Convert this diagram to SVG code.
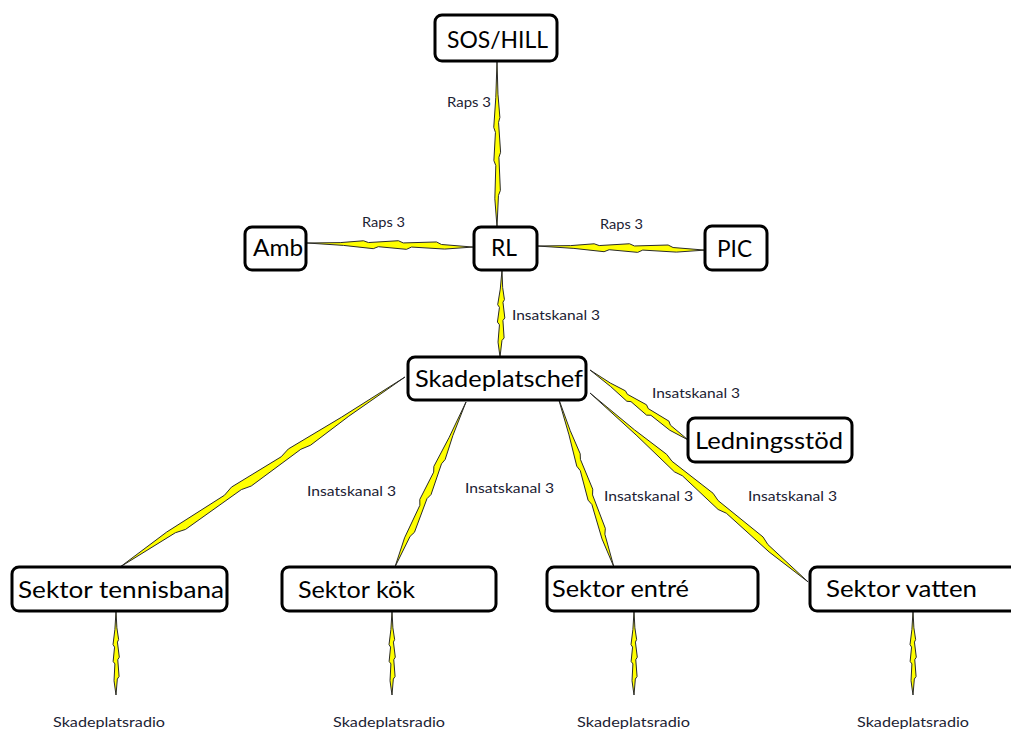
<svg xmlns="http://www.w3.org/2000/svg" width="1011" height="731" viewBox="0 0 1011 731">
<style>
.box{fill:#fff;stroke:#000;stroke-width:3}
.nt{font-family:Lato,"Open Sans",sans-serif;font-size:24px;fill:#000}
.lb{font-family:Lato,"Open Sans",sans-serif;font-size:13px;fill:#1c2233}
.bolt{fill:#ffff00;stroke:#2a2a2a;stroke-width:1;vector-effect:non-scaling-stroke;stroke-linejoin:round}
</style>
<defs>
<polygon id="bolt" class="bolt" points="0,0 0.2,-0.8 0.34,-2.4 0.37,-1.3 0.55,-3 0.58,-1.6 0.78,-2.8 0.81,-1.2 1,0 0.83,1.8 0.63,1 0.6,2.6 0.43,1.3 0.4,2.7 0.22,1 0,0"/>
</defs>
<rect width="1011" height="731" fill="#fff"/>
<g id="connectors">
<use href="#bolt" transform="translate(497,61) rotate(90) scale(166,1.2)"/>
<use href="#bolt" transform="translate(307,243) rotate(1.4) scale(166,1.5)"/>
<use href="#bolt" transform="translate(537,246) rotate(1.4) scale(168,1.5)"/>
<use href="#bolt" transform="translate(502,270) rotate(91.3) scale(87,1.3)"/>
<use href="#bolt" transform="translate(590,370) rotate(35.5) scale(120.4,1.5)"/>
<use href="#bolt" transform="translate(405,377) rotate(146.3) scale(342.5,1.8)"/>
<use href="#bolt" transform="translate(466,402) rotate(113.3) scale(179.6,1.5)"/>
<use href="#bolt" transform="translate(558,397) rotate(71.8) scale(179,1.4)"/>
<use href="#bolt" transform="translate(590,393) rotate(40.9) scale(288.5,1.6)"/>
<use href="#bolt" transform="translate(116,611) rotate(90) scale(84,1.1)"/>
<use href="#bolt" transform="translate(392,611) rotate(90) scale(84,1.1)"/>
<use href="#bolt" transform="translate(634,611) rotate(90) scale(84,1.1)"/>
<use href="#bolt" transform="translate(913,611) rotate(90) scale(84,1.1)"/>
<text class="lb" x="447" y="107" textLength="44" lengthAdjust="spacingAndGlyphs">Raps 3</text>
<text class="lb" x="362" y="227" textLength="43" lengthAdjust="spacingAndGlyphs">Raps 3</text>
<text class="lb" x="600" y="229" textLength="43" lengthAdjust="spacingAndGlyphs">Raps 3</text>
<text class="lb" x="512" y="320" textLength="88" lengthAdjust="spacingAndGlyphs">Insatskanal 3</text>
<text class="lb" x="652" y="398" textLength="88" lengthAdjust="spacingAndGlyphs">Insatskanal 3</text>
<text class="lb" x="307" y="496" textLength="89" lengthAdjust="spacingAndGlyphs">Insatskanal 3</text>
<text class="lb" x="465" y="493" textLength="89" lengthAdjust="spacingAndGlyphs">Insatskanal 3</text>
<text class="lb" x="604" y="501" textLength="89" lengthAdjust="spacingAndGlyphs">Insatskanal 3</text>
<text class="lb" x="748" y="501" textLength="89" lengthAdjust="spacingAndGlyphs">Insatskanal 3</text>
<text class="lb" x="53" y="727" textLength="112" lengthAdjust="spacingAndGlyphs">Skadeplatsradio</text>
<text class="lb" x="333" y="727" textLength="112" lengthAdjust="spacingAndGlyphs">Skadeplatsradio</text>
<text class="lb" x="577" y="727" textLength="113" lengthAdjust="spacingAndGlyphs">Skadeplatsradio</text>
<text class="lb" x="857" y="727" textLength="112" lengthAdjust="spacingAndGlyphs">Skadeplatsradio</text>
</g>
<g id="n-sos"><rect class="box" x="435" y="15" width="122" height="46" rx="7"/><text class="nt" x="447" y="48" font-size="26" textLength="101" lengthAdjust="spacingAndGlyphs">SOS/HILL</text></g>
<g id="n-amb"><rect class="box" x="245" y="227" width="61" height="43" rx="7"/><text class="nt" x="253" y="256" textLength="50" lengthAdjust="spacingAndGlyphs">Amb</text></g>
<g id="n-rl"><rect class="box" x="474" y="227" width="63" height="43" rx="7"/><text class="nt" x="491" y="256" textLength="26" lengthAdjust="spacingAndGlyphs">RL</text></g>
<g id="n-pic"><rect class="box" x="705" y="226" width="62" height="44" rx="7"/><text class="nt" x="717" y="257" textLength="35" lengthAdjust="spacingAndGlyphs">PIC</text></g>
<g id="n-skade"><rect class="box" x="408" y="357" width="178" height="43" rx="7"/><text class="nt" x="415" y="387" textLength="168" lengthAdjust="spacingAndGlyphs">Skadeplatschef</text></g>
<g id="n-ledning"><rect class="box" x="688" y="418" width="164" height="44" rx="7"/><text class="nt" x="695" y="449" textLength="148" lengthAdjust="spacingAndGlyphs">Ledningsstöd</text></g>
<g id="n-tennis"><rect class="box" x="12" y="567" width="215" height="44" rx="7"/><text class="nt" x="18" y="598" textLength="206" lengthAdjust="spacingAndGlyphs">Sektor tennisbana</text></g>
<g id="n-kok"><rect class="box" x="282" y="567" width="214" height="44" rx="7"/><text class="nt" x="298" y="598" textLength="117" lengthAdjust="spacingAndGlyphs">Sektor kök</text></g>
<g id="n-entre"><rect class="box" x="547" y="567" width="211" height="44" rx="7"/><text class="nt" x="552" y="597" textLength="137" lengthAdjust="spacingAndGlyphs">Sektor entré</text></g>
<g id="n-vatten"><rect class="box" x="810" y="567" width="210" height="44" rx="7"/><text class="nt" x="826" y="597" textLength="151" lengthAdjust="spacingAndGlyphs">Sektor vatten</text></g>
</svg>
